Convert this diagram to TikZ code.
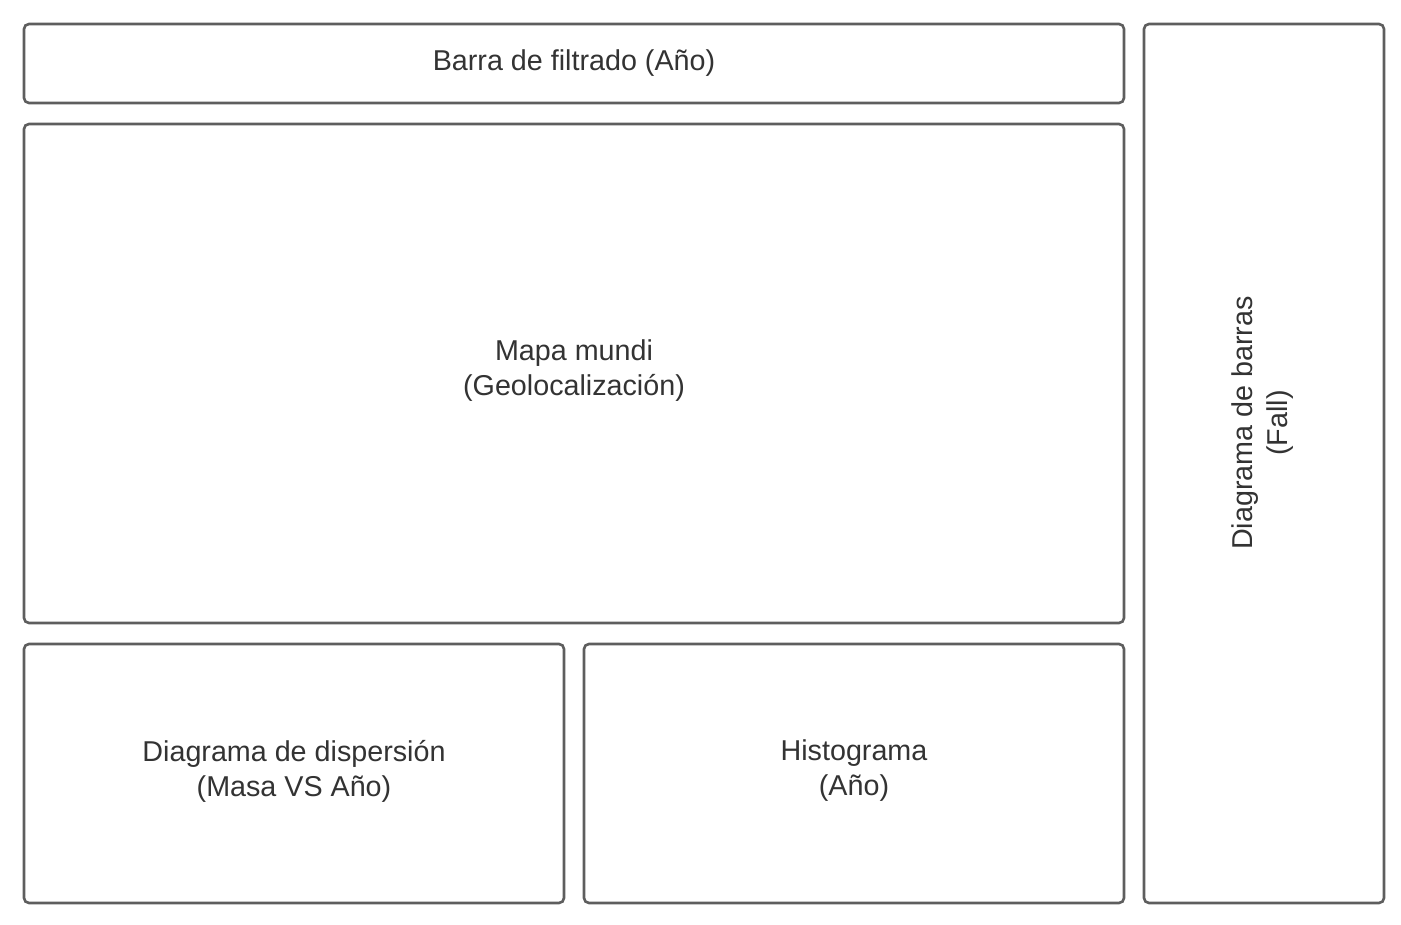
\documentclass[tikz,border=0pt]{standalone}
\usepackage{fontspec}
\setmainfont{Liberation Sans}
\definecolor{boxline}{HTML}{5E5E5E}
\definecolor{txt}{HTML}{333333}
\begin{document}
\begin{tikzpicture}[x=1pt,y=-1pt,
  panel/.style={draw=boxline, line width=2.6pt, rounded corners=5pt, fill=white},
  lbl/.style={text=txt, align=center, font=\fontsize{28.7}{35}\selectfont, inner sep=0pt}]
\useasboundingbox (0,0) rectangle (1401,925);
\fill[white] (0,0) rectangle (1401,925);
\draw[panel] (24,24) rectangle (1124,103);
\draw[panel] (24,124) rectangle (1124,623);
\draw[panel] (24,644) rectangle (564,903);
\draw[panel] (584,644) rectangle (1124,903);
\draw[panel] (1144,24) rectangle (1384,903);
\node[lbl] (filtro) at (574,63) {Barra de filtrado (Año)};
\node[lbl] (mapa) at (574,371) {Mapa mundi\\(Geolocalización)};
\node[lbl] (disp) at (294,771) {Diagrama de dispersión\\(Masa VS Año)};
\node[lbl] (hist) at (854,771) {Histograma\\(Año)};
\node[lbl, rotate=90] (barras) at (1263,423) {Diagrama de barras\\(Fall)};
\end{tikzpicture}
\end{document}
